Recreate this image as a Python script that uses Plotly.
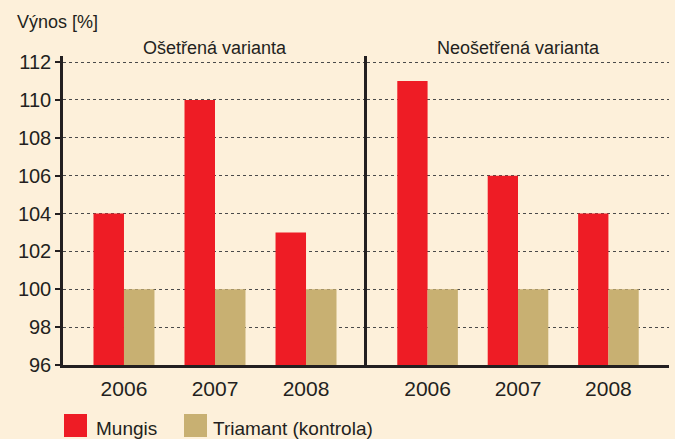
import plotly.graph_objects as go
from plotly.subplots import make_subplots

years = ["2006", "2007", "2008"]
mungis_osetrena = [104, 110, 103]
triamant_osetrena = [100, 100, 100]
mungis_neosetrena = [111, 106, 104]
triamant_neosetrena = [100, 100, 100]
panel_titles = ["Ošetřená varianta", "Neošetřená varianta"]
series_names = ["Mungis", "Triamant (kontrola)"]
y_title = "Výnos [%]"
y_ticks = [96, 98, 100, 102, 104, 106, 108, 110, 112]

RED = "#EE1C25"
TAN = "#C8B072"
BG = "#FDF0DA"
INK = "#231F20"
FONT = "Liberation Sans, Arial, sans-serif"

W, H = 675, 439
L, R, T, B = 63, 6, 56, 74
PX0, PX1, PY0, PY1 = L, W - R, T, H - B

def px_x(p):
    return (p - PX0) / (PX1 - PX0)

def px_y(p):
    return (PY1 - p) / (PY1 - PY0)

split = px_x(367)

fig = make_subplots(rows=1, cols=2, shared_yaxes=True, horizontal_spacing=0)

panels = [(mungis_osetrena, triamant_osetrena), (mungis_neosetrena, triamant_neosetrena)]
for i, (m, t) in enumerate(panels, start=1):
    fig.add_trace(go.Bar(x=years, y=m, name=series_names[0], marker_color=RED,
                         marker_line_width=0, showlegend=False), row=1, col=i)
    fig.add_trace(go.Bar(x=years, y=t, name=series_names[1], marker_color=TAN,
                         marker_line_width=0, showlegend=False), row=1, col=i)

fig.update_layout(
    width=W, height=H,
    margin=dict(l=L, r=R, t=T, b=B),
    paper_bgcolor=BG, plot_bgcolor=BG,
    barmode="group", bargap=0.33, bargroupgap=0,
    font=dict(family=FONT, color=INK, size=18),
)

xcommon = dict(type="category", range=[-0.67, 2.67], showline=True, linecolor=INK,
               linewidth=3, ticks="", showgrid=False, zeroline=False,
               tickfont=dict(size=21, color=INK), ticklabelstandoff=3, fixedrange=True)
fig.update_layout(
    xaxis=dict(domain=[0, split], **xcommon),
    xaxis2=dict(domain=[split, 1], **xcommon),
)

ycommon = dict(range=[96, 112.32], tickvals=y_ticks, showline=True, linecolor=INK,
               linewidth=2.5, showgrid=True, gridcolor="#4a4a4a", gridwidth=1,
               griddash="3px,3px", zeroline=False, fixedrange=True)
fig.update_layout(
    yaxis=dict(ticks="outside", ticklen=5, tickwidth=2, tickcolor=INK,
               tickfont=dict(size=20, color=INK), **ycommon),
    yaxis2=dict(ticks="", showticklabels=False, **ycommon),
)

annotations = [
    dict(text=y_title, xref="paper", yref="paper", x=px_x(15), y=px_y(22),
         xanchor="left", yanchor="middle", showarrow=False, font=dict(size=18)),
    dict(text=panel_titles[0], xref="paper", yref="paper", x=px_x(215), y=px_y(48),
         xanchor="center", yanchor="middle", showarrow=False, font=dict(size=18)),
    dict(text=panel_titles[1], xref="paper", yref="paper", x=px_x(518), y=px_y(48),
         xanchor="center", yanchor="middle", showarrow=False, font=dict(size=18)),
    dict(text=series_names[0], xref="paper", yref="paper", x=px_x(94), y=px_y(428),
         xanchor="left", yanchor="middle", showarrow=False, font=dict(size=19)),
    dict(text=series_names[1], xref="paper", yref="paper", x=px_x(211), y=px_y(428),
         xanchor="left", yanchor="middle", showarrow=False, font=dict(size=19)),
]
shapes = [
    dict(type="rect", xref="paper", yref="paper", x0=px_x(64), x1=px_x(87),
         y0=px_y(437), y1=px_y(414), fillcolor=RED, line_width=0),
    dict(type="rect", xref="paper", yref="paper", x0=px_x(184), x1=px_x(207),
         y0=px_y(437), y1=px_y(414), fillcolor=TAN, line_width=0),
]
fig.update_layout(annotations=annotations, shapes=shapes)

fig.write_html("out.html", config={"displayModeBar": False},
               post_script="document.body.style.margin='0';")
